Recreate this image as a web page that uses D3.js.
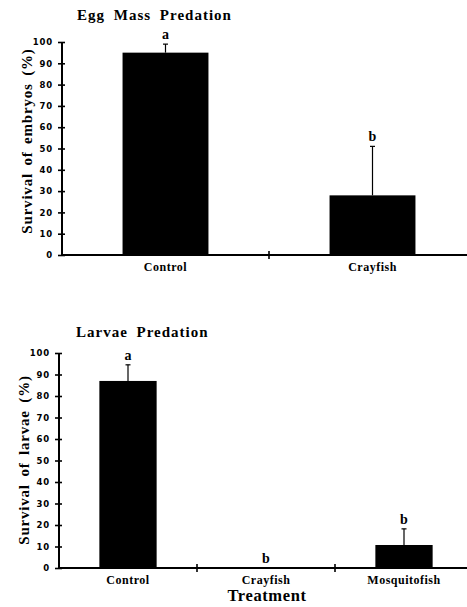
<!DOCTYPE html>
<html>
<head>
<meta charset="utf-8">
<script src="https://cdn.jsdelivr.net/npm/d3@7"></script>
<style>
  body { margin: 0; background: #fff; }
  .title { font-family: "Liberation Serif", "Times New Roman", serif; font-weight: bold; }
  .ticklbl { font-family: "DejaVu Sans", Arial, sans-serif; font-weight: bold; font-size: 8.5px; }
</style>
</head>
<body>
<div id="chart"></div>
<script>
// top panel: egg mass predation
var eggCategories = ["Control", "Crayfish"];
var eggValues = [95, 28];
var eggErrors = [4, 23];
var eggLetters = ["a", "b"];

// bottom panel: larvae predation
var larvaeCategories = ["Control", "Crayfish", "Mosquitofish"];
var larvaeValues = [87, 0, 10.7];
var larvaeErrors = [7.5, 0, 7.5];
var larvaeLetters = ["a", "b", "b"];

var yTicks = [0, 10, 20, 30, 40, 50, 60, 70, 80, 90, 100];

var svg = d3.select("#chart").append("svg")
    .attr("width", 467)
    .attr("height", 607);

/**
 * Draws one bar panel with error bars and significance letters
 */
function drawPanel(opts){
    var g = svg.append("g");

    var x = d3.scaleBand()
        .domain(opts.categories)
        .range([opts.left, opts.left + opts.bandW * opts.categories.length])
        .padding(0);

    var y = d3.scaleLinear()
        .domain([0, 100])
        .range([opts.bottom, opts.top]);

    var barW = x.bandwidth() * 0.415;
    var data = opts.categories.map(function(c, i){
        return {cat: c, value: opts.values[i], err: opts.errors[i], letter: opts.letters[i]};
    });

    //bars
    g.selectAll("rect.bar").data(data).enter()
        .append("rect")
        .attr("class", "bar")
        .attr("x", function(d){ return x(d.cat) + x.bandwidth()/2 - barW/2; })
        .attr("y", function(d){ return y(d.value); })
        .attr("width", barW)
        .attr("height", function(d){ return y(0) - y(d.value); })
        .attr("fill", "#000");

    //error bars (upper only)
    var withErr = data.filter(function(d){ return d.err > 0; });
    g.selectAll("line.err").data(withErr).enter()
        .append("line")
        .attr("class", "err")
        .attr("x1", function(d){ return x(d.cat) + x.bandwidth()/2; })
        .attr("x2", function(d){ return x(d.cat) + x.bandwidth()/2; })
        .attr("y1", function(d){ return y(d.value); })
        .attr("y2", function(d){ return y(d.value + d.err); })
        .attr("stroke", "#000")
        .attr("stroke-width", 1.2);
    g.selectAll("line.cap").data(withErr).enter()
        .append("line")
        .attr("class", "cap")
        .attr("x1", function(d){ return x(d.cat) + x.bandwidth()/2 - 2.5; })
        .attr("x2", function(d){ return x(d.cat) + x.bandwidth()/2 + 2.5; })
        .attr("y1", function(d){ return y(d.value + d.err); })
        .attr("y2", function(d){ return y(d.value + d.err); })
        .attr("stroke", "#000")
        .attr("stroke-width", 1.2);

    //significance letters
    g.selectAll("text.letter").data(data).enter()
        .append("text")
        .attr("class", "title")
        .attr("x", function(d){ return x(d.cat) + x.bandwidth()/2; })
        .attr("y", function(d){ return y(d.value + d.err) - 5; })
        .attr("text-anchor", "middle")
        .style("font-size", "14px")
        .text(function(d){ return d.letter; });

    //y axis
    var yAxis = g.append("g")
        .attr("transform", "translate(" + opts.left + ",0)")
        .call(d3.axisLeft(y).tickValues(yTicks).tickSize(4).tickPadding(5));
    yAxis.select(".domain").remove();
    yAxis.selectAll(".tick line")
        .attr("x1", 3)
        .attr("x2", -4)
        .attr("stroke-width", 1.6);
    yAxis.selectAll(".tick text")
        .attr("class", "ticklbl")
        .attr("font-family", null)
        .attr("font-size", null)
        .style("letter-spacing", "0.8px");
    g.append("line")
        .attr("x1", opts.left).attr("x2", opts.left)
        .attr("y1", y(0)).attr("y2", y(100))
        .attr("stroke", "#000").attr("stroke-width", 2);

    //x axis line and dividers between groups
    g.append("line")
        .attr("x1", opts.left).attr("x2", 467)
        .attr("y1", y(0)).attr("y2", y(0))
        .attr("stroke", "#000").attr("stroke-width", 2);
    g.selectAll("line.div").data(opts.categories.slice(1)).enter()
        .append("line")
        .attr("class", "div")
        .attr("x1", function(c){ return x(c); })
        .attr("x2", function(c){ return x(c); })
        .attr("y1", y(0) - 4).attr("y2", y(0) + 4)
        .attr("stroke", "#000").attr("stroke-width", 1.6);

    //category labels
    g.selectAll("text.cat").data(opts.categories).enter()
        .append("text")
        .attr("class", "title")
        .attr("x", function(c){ return x(c) + x.bandwidth()/2; })
        .attr("y", y(0) + 16)
        .attr("text-anchor", "middle")
        .style("font-size", "12px")
        .style("letter-spacing", "0.5px")
        .text(function(c){ return c; });

    //panel title
    g.append("text")
        .attr("class", "title")
        .attr("x", opts.titleX)
        .attr("y", opts.titleY)
        .style("font-size", "15px")
        .style("letter-spacing", "1px")
        .style("word-spacing", "4px")
        .text(opts.title);

    //y axis label
    g.append("text")
        .attr("class", "title")
        .attr("transform", "translate(" + opts.yLabelX + "," + opts.yLabelY + ") rotate(-90)")
        .attr("text-anchor", "middle")
        .style("font-size", "15px")
        .style("letter-spacing", "0.8px")
        .style("word-spacing", "3px")
        .text(opts.yLabel);
}

drawPanel({
    categories: eggCategories, values: eggValues, errors: eggErrors, letters: eggLetters,
    left: 62, bandW: 207, top: 42, bottom: 255,
    title: "Egg Mass Predation", titleX: 77, titleY: 20,
    yLabel: "Survival of embryos (%)", yLabelX: 32, yLabelY: 141
});

drawPanel({
    categories: larvaeCategories, values: larvaeValues, errors: larvaeErrors, letters: larvaeLetters,
    left: 59, bandW: 138, top: 353, bottom: 568,
    title: "Larvae Predation", titleX: 76, titleY: 337,
    yLabel: "Survival of larvae (%)", yLabelX: 29, yLabelY: 460
});

//shared axis title
svg.append("text")
    .attr("class", "title")
    .attr("x", 267)
    .attr("y", 601)
    .attr("text-anchor", "middle")
    .style("font-size", "16.5px")
    .style("letter-spacing", "0.6px")
    .text("Treatment");
</script>
</body>
</html>
